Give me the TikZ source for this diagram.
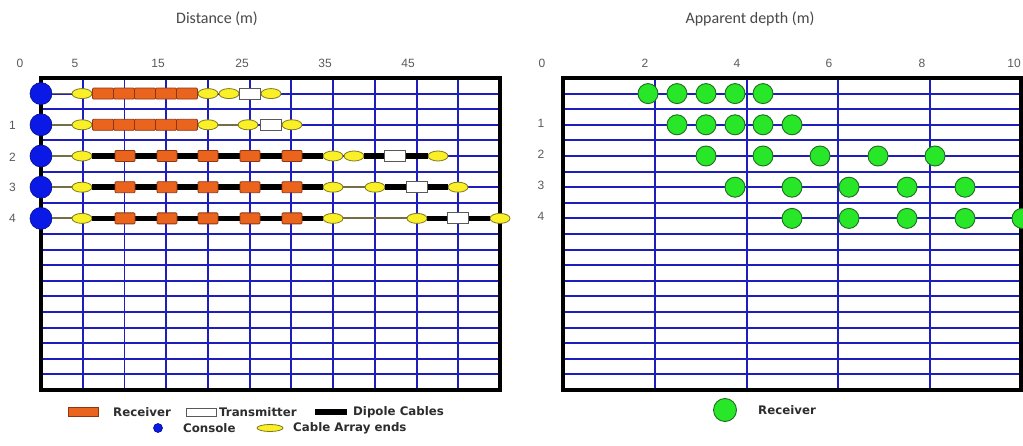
\documentclass[tikz,border=0pt]{standalone}
\usepackage{fontspec}
\setmainfont{Liberation Sans}
\newfontfamily\legendfont{DejaVu Sans}
\newfontfamily\titlefont{Carlito}
\usetikzlibrary{shapes.geometric}

\definecolor{gridblue}{RGB}{30,30,190}
\definecolor{consoleblue}{RGB}{10,25,230}
\definecolor{rxorange}{RGB}{235,100,30}
\definecolor{rxedge}{RGB}{140,55,20}
\definecolor{capyellow}{RGB}{250,240,40}
\definecolor{capedge}{RGB}{130,120,30}
\definecolor{leadolive}{RGB}{115,110,70}
\definecolor{rcvgreen}{RGB}{40,230,40}
\definecolor{rcvedge}{RGB}{30,110,30}
\definecolor{labelgray}{RGB}{90,90,90}
\definecolor{legendtext}{RGB}{45,45,45}

\begin{document}
\begin{tikzpicture}[x=1pt,y=-1pt,
  gridline/.style={draw=gridblue,line width=1.9pt},
  frame/.style={draw=black,line width=3.4pt},
  console/.style={circle,fill=consoleblue,draw=consoleblue!60!black,line width=0.6pt,minimum size=22pt,inner sep=0pt},
  arrayend/.style={ellipse,fill=capyellow,draw=capedge,line width=0.8pt,minimum width=20pt,minimum height=10pt,inner sep=0pt},
  rxbox/.style={rectangle,rounded corners=1pt,fill=rxorange,draw=rxedge,line width=0.8pt,minimum width=20pt,minimum height=11pt,inner sep=0pt},
  txbox/.style={rectangle,fill=white,draw=gray!70!black,line width=0.8pt,minimum width=21pt,minimum height=11pt,inner sep=0pt},
  dipole/.style={draw=black,line width=5.5pt},
  lead/.style={draw=leadolive,line width=1.8pt},
  rcv/.style={circle,fill=rcvgreen,draw=rcvedge,line width=0.9pt,minimum size=20pt,inner sep=0pt},
  ticklabel/.style={font=\fontsize{12}{14}\selectfont,text=labelgray,inner sep=0pt},
  paneltitle/.style={font=\titlefont\fontsize{16}{18}\selectfont,text=labelgray!80!black,inner sep=0pt},
  legendlabel/.style={font=\legendfont\bfseries\fontsize{11.8}{13}\selectfont,text=legendtext,anchor=west,inner sep=0pt}]

\path[use as bounding box] (0,0) rectangle (1023,446);
\clip (0,0) rectangle (1023,446);
\fill[white] (0,0) rectangle (1023,446);

% ---------- titles and axis numbers ----------
\node[paneltitle] (tl) at (217,19) {Distance (m)};
\node[paneltitle] (tr) at (750,19) {Apparent depth (m)};

\foreach \x/\t in {20/0,75/5,158/15,242/25,325/35,408/45}
  \node[ticklabel] (xl\t) at (\x,63) {\t};
\foreach \x/\t in {542/0,645/2,737/4,829/6,922/8,1014/10}
  \node[ticklabel] (xr\t) at (\x,63) {\t};
\foreach \y/\t in {125/1,157/2,187.5/3,218.5/4}
  \node[ticklabel] (yl\t) at (12.5,\y) {\t};
\foreach \y/\t in {123.5/1,154.5/2,185.5/3,216/4}
  \node[ticklabel] (yr\t) at (541,\y) {\t};

% ---------- grids ----------
\foreach \k in {1,...,19} {
  \draw[gridline] (41,{78+15.6*\k}) -- (500,{78+15.6*\k});
  \draw[gridline] (563,{78+15.6*\k}) -- (1021,{78+15.6*\k});
}
\foreach \k in {1,...,10}
  \draw[gridline] ({41+41.73*\k},78) -- ({41+41.73*\k},390);
\foreach \k in {1,...,4}
  \draw[gridline] ({563+91.8*\k},78) -- ({563+91.8*\k},390);
\draw[frame] (41,78) rectangle (500,390);
\draw[frame] (563,78) rectangle (1021,390);

% ---------- cable arrays (left) ----------
% row 0
\node[console] (c0) at (41,93.6) {};
\node[arrayend] (e00) at (82,93.6) {};
\node[arrayend] (e01) at (208,93.6) {};
\node[arrayend] (e02) at (229,93.6) {};
\node[txbox]  (t0)  at (249.5,93.6) {};
\node[arrayend] (e03) at (271,93.6) {};
\draw[lead] (c0) -- (e00);
\foreach \i/\x in {1/103,2/124,3/145,4/166,5/187}
  \node[rxbox,minimum width=21pt] (r0\i) at (\x,93.6) {};

% row 1
\node[console] (c1) at (41,124.8) {};
\node[arrayend] (e10) at (82,124.8) {};
\node[arrayend] (e11) at (208,124.8) {};
\node[arrayend] (e12) at (248,124.8) {};
\node[txbox]  (t1)  at (271,124.8) {};
\node[arrayend] (e13) at (292,124.8) {};
\draw[lead] (c1) -- (e10);
\draw[lead] (e11) -- (e12);
\foreach \i/\x in {1/103,2/124,3/145,4/166,5/187}
  \node[rxbox,minimum width=21pt] (r1\i) at (\x,124.8) {};

% row 2
\node[console] (c2) at (41,156) {};
\node[arrayend] (e20) at (82,156) {};
\node[arrayend] (e21) at (333,156) {};
\node[arrayend] (e22) at (354,156) {};
\node[txbox]  (t2)  at (395,156) {};
\node[arrayend] (e23) at (438,156) {};
\draw[lead] (c2) -- (e20);
\draw[dipole] (e20) -- (e21);
\draw[dipole] (e22) -- (t2);
\draw[dipole] (t2) -- (e23);
\foreach \i/\x in {1/125,2/167,3/208,4/250,5/292}
  \node[rxbox] (r2\i) at (\x,156) {};

% row 3
\node[console] (c3) at (41,187.2) {};
\node[arrayend] (e30) at (82,187.2) {};
\node[arrayend] (e31) at (333,187.2) {};
\node[arrayend] (e32) at (375,187.2) {};
\node[txbox]  (t3)  at (417,187.2) {};
\node[arrayend] (e33) at (458,187.2) {};
\draw[lead] (c3) -- (e30);
\draw[dipole] (e30) -- (e31);
\draw[lead] (e31) -- (e32);
\draw[dipole] (e32) -- (t3);
\draw[dipole] (t3) -- (e33);
\foreach \i/\x in {1/125,2/167,3/208,4/250,5/292}
  \node[rxbox] (r3\i) at (\x,187.2) {};

% row 4
\node[console] (c4) at (41,218.4) {};
\node[arrayend] (e40) at (82,218.4) {};
\node[arrayend] (e41) at (333,218.4) {};
\node[arrayend] (e42) at (417,218.4) {};
\node[txbox]  (t4)  at (458,218.4) {};
\node[arrayend] (e43) at (500,218.4) {};
\draw[lead] (c4) -- (e40);
\draw[dipole] (e40) -- (e41);
\draw[lead] (e41) -- (e42);
\draw[dipole] (e42) -- (t4);
\draw[dipole] (t4) -- (e43);
\foreach \i/\x in {1/125,2/167,3/208,4/250,5/292}
  \node[rxbox] (r4\i) at (\x,218.4) {};

% ---------- receivers by apparent depth (right) ----------
\foreach \i/\x in {1/648,2/677,3/706,4/735,5/763}
  \node[rcv] (g0\i) at (\x,93.6) {};
\foreach \i/\x in {1/677,2/706,3/735,4/763,5/792}
  \node[rcv] (g1\i) at (\x,124.8) {};
\foreach \i/\x in {1/706,2/763,3/820,4/878,5/935}
  \node[rcv] (g2\i) at (\x,156) {};
\foreach \i/\x in {1/735,2/792,3/849,4/907,5/965}
  \node[rcv] (g3\i) at (\x,187.2) {};
\foreach \i/\x in {1/792,2/849,3/907,4/965,5/1022}
  \node[rcv] (g4\i) at (\x,218.4) {};

% ---------- legends ----------
\node[rxbox,minimum width=30pt,minimum height=9pt,rounded corners=0pt] (lrx) at (83,412) {};
\node[legendlabel] (lrxt) at (113,412) {Receiver};
\node[txbox,minimum width=30pt,minimum height=8pt] (ltx) at (201,412) {};
\node[legendlabel] (ltxt) at (219,412) {Transmitter};
\node[rectangle,fill=black,minimum width=32pt,minimum height=6pt,inner sep=0pt] (ldp) at (331,412) {};
\node[legendlabel] (ldpt) at (353,412) {Dipole Cables};
\node[console,minimum size=9pt] (lc) at (158,428) {};
\node[legendlabel] (lct) at (183,428) {Console};
\node[arrayend,minimum width=26pt,minimum height=7pt] (lcap) at (270,428) {};
\node[legendlabel] (lcapt) at (293,428) {Cable Array ends};

\node[rcv,minimum size=23pt] (lg) at (725,410) {};
\node[legendlabel] (lgt) at (758,410) {Receiver};
\end{tikzpicture}
\end{document}
